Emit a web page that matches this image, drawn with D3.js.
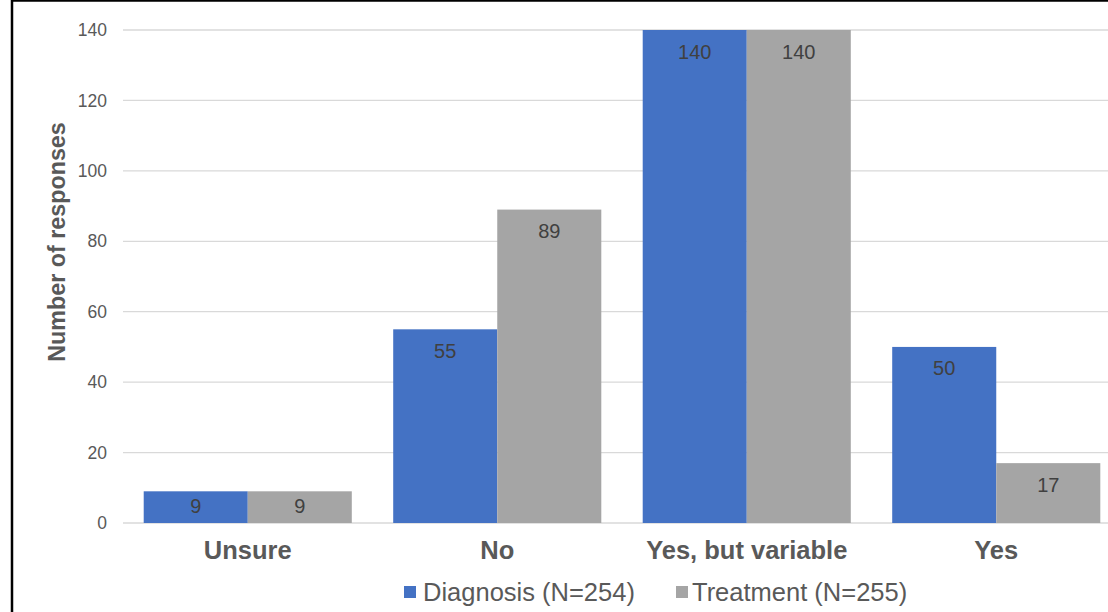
<!DOCTYPE html>
<html><head><meta charset="utf-8">
<script src="https://cdn.jsdelivr.net/npm/d3@7"></script>
<style>body{margin:0;background:#fff}svg{display:block}text{font-family:"Liberation Sans",Arial,sans-serif}</style>
</head><body><svg id="c" width="1108" height="612"></svg>
<script>
const categories = ["Unsure", "No", "Yes, but variable", "Yes"];
const seriesNames = ["Diagnosis (N=254)", "Treatment (N=255)"];
const diagnosis = [9, 55, 140, 50];
const treatment = [9, 89, 140, 17];
const yTicks = [0, 20, 40, 60, 80, 100, 120, 140];
const colors = ["#4472C4", "#A5A5A5"];

const svg = d3.select("#c");
// frame
svg.append("rect").attr("x", 12).attr("y", 0.5).attr("width", 1200).attr("height", 700)
  .attr("fill", "none").attr("stroke", "#000").attr("stroke-width", 2.5);

const y = d3.scaleLinear().domain([0, 140]).range([523, 30]);
const x0 = d3.scaleBand().domain(categories).range([123, 1121]).paddingInner(0.166).paddingOuter(0.083);
const x1 = d3.scaleBand().domain(seriesNames).range([0, x0.bandwidth()]);

// gridlines
svg.append("g").selectAll("line").data(yTicks).join("line")
  .attr("x1", 123).attr("x2", 1108).attr("y1", d => y(d)).attr("y2", d => y(d))
  .attr("stroke", "#d9d9d9").attr("stroke-width", 1.3);

// y axis labels
const yAxis = d3.axisLeft(y).tickValues(yTicks).tickSize(0).tickPadding(0);
const ga = svg.append("g").attr("transform", "translate(107,0)").call(yAxis);
ga.attr("font-size", null).attr("font-family", null);
ga.select(".domain").remove();
ga.selectAll("text").attr("fill", "#595959").style("font-size", "17.5px");

// axis title
svg.append("text").attr("transform", "translate(65,242) rotate(-90)").attr("text-anchor", "middle")
  .attr("fill", "#595959").style("font-size", "23.3px").style("font-weight", "bold").text("Number of responses");

// bars
const data = categories.map((c, i) => ({cat: c, vals: [diagnosis[i], treatment[i]]}));
const groups = svg.append("g").selectAll("g").data(data).join("g")
  .attr("transform", d => `translate(${x0(d.cat)},0)`);
groups.selectAll("rect").data(d => d.vals.map((v, j) => ({s: seriesNames[j], v, j}))).join("rect")
  .attr("x", d => x1(d.s)).attr("width", x1.bandwidth())
  .attr("y", d => y(d.v)).attr("height", d => y(0) - y(d.v))
  .attr("fill", d => colors[d.j]);
groups.selectAll("text.lbl").data(d => d.vals.map((v, j) => ({s: seriesNames[j], v, j}))).join("text")
  .attr("class", "lbl")
  .attr("x", d => x1(d.s) + x1.bandwidth() / 2)
  .attr("y", d => y(d.v) + Math.min(21.5, (y(0) - y(d.v)) / 2 - 1) + 7)
  .attr("text-anchor", "middle").attr("fill", "#404040").style("font-size", "20px").text(d => d.v);

// x axis labels
const xAxis = d3.axisBottom(x0).tickSize(0).tickPadding(0);
const gx = svg.append("g").call(xAxis);
gx.attr("font-size", null).attr("font-family", null);
gx.select(".domain").remove();
gx.selectAll("text").attr("y", 559).attr("dy", null).attr("fill", "#595959")
  .style("font-size", "25.5px").style("font-weight", "bold");

// legend
const legendX = [404, 676];
const lg = svg.append("g").selectAll("g").data(seriesNames).join("g")
  .attr("transform", (d, i) => `translate(${legendX[i]},0)`);
lg.append("rect").attr("x", 0).attr("y", 586).attr("width", 12).attr("height", 12).attr("fill", (d, i) => colors[i]);
lg.append("text").attr("x", (d, i) => i === 0 ? 19 : 16).attr("y", 600.5).attr("fill", "#595959")
  .style("font-size", "25.5px").text(d => d);
</script></body></html>
